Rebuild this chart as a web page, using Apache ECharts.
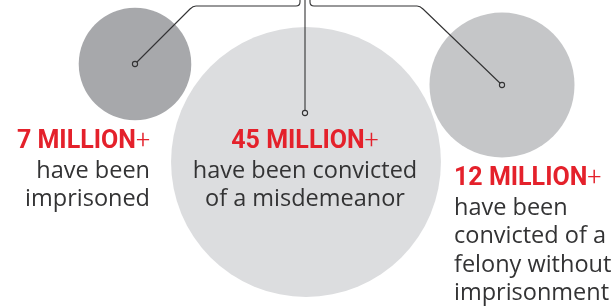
<!DOCTYPE html>
<html>
  <head>
    <meta charset="utf-8" />
    <title>Criminal records</title>
    <script src="https://cdn.jsdelivr.net/npm/echarts@6/dist/echarts.min.js"></script>
    <style>
      html, body { margin: 0; padding: 0; background: #fff; }
    </style>
  </head>
  <body>
    <div id="main" style="width: 612px; height: 308px"></div>
    <script type="text/javascript">
      // data
      const groups = ['imprisoned', 'misdemeanor', 'felony'];
      const millions = [7, 45, 12];
      const headlines = ['7 MILLION', '45 MILLION', '12 MILLION'];
      const descriptions = [
        ['have been', 'imprisoned'],
        ['have been convicted', 'of a misdemeanor'],
        ['have been', 'convicted of a', 'felony without', 'imprisonment']
      ];

      // layout in chart coords (axes span the whole canvas 1:1)
      const layout = [
        {
          center: [135, 64], fill: '#a7a8ab',
          text: [150, 149], align: 'right',
          leader: [['M', 135, 64], ['L', 190, 9], ['Q', 193, 6, 196, 6], ['L', 296, 6], ['Q', 300, 6, 300, 2], ['L', 300, -6]]
        },
        {
          center: [306, 162], fill: '#dcdddf',
          text: [305, 149], align: 'center',
          leader: [['M', 305, 113], ['L', 305, -6]],
          dot: [305, 113]
        },
        {
          center: [502, 85], fill: '#c5c6c8',
          text: [454, 186], align: 'left',
          leader: [['M', 310, -6], ['L', 310, 2], ['Q', 310, 6, 314, 6], ['L', 417, 6], ['Q', 420, 6, 423, 9], ['L', 502, 85]]
        }
      ];

      var chartDom = document.getElementById('main');
      var myChart = echarts.init(chartDom, null, { renderer: 'canvas' });

      function diameter(v) {
        return 45.1 * Math.pow(v, 0.47);
      }

      function pathFrom(api, cmds) {
        return cmds.map(function (c) {
          var pts = [];
          for (var i = 1; i < c.length; i += 2) {
            var p = api.coord([c[i], c[i + 1]]);
            pts.push(p[0].toFixed(1) + ' ' + p[1].toFixed(1));
          }
          return c[0] + pts.join(' ');
        }).join(' ');
      }

      const red = '#e4212b';
      const ink = '#333334';
      const headFont = 'Roboto, "Noto Sans", sans-serif';
      const bodyFont = '"Open Sans", "Noto Sans", sans-serif';

      function renderCircle(params, api) {
        var i = params.dataIndex;
        var L = layout[i];
        var c = api.coord(L.center);
        var r = diameter(api.value(1)) / 2;
        return {
          type: 'circle',
          shape: { cx: c[0], cy: c[1], r: r },
          style: { fill: L.fill }
        };
      }

      function renderLabels(params, api) {
        var i = params.dataIndex;
        var L = layout[i];
        var children = [];
        children.push({
          type: 'path',
          shape: { pathData: pathFrom(api, L.leader) },
          style: { fill: null, stroke: ink, lineWidth: 1.1 }
        });
        var d = api.coord(L.dot || L.center);
        children.push({
          type: 'circle',
          shape: { cx: d[0], cy: d[1], r: 2.6 },
          style: { fill: L.fill, stroke: ink, lineWidth: 1.1 }
        });
        var t = api.coord(L.text);
        children.push({
          type: 'text',
          x: t[0],
          y: t[1] - 7,
          style: {
            text: '{b|' + headlines[i] + '}{p|+}',
            align: L.align,
            verticalAlign: 'middle',
            rich: {
              b: { fontFamily: headFont, fontWeight: 'bold', fontSize: 25, fill: red },
              p: { fontFamily: headFont, fontWeight: 300, fontSize: 25, fill: red }
            }
          }
        });
        descriptions[i].forEach(function (line, k) {
          var p = api.coord([L.text[0], L.text[1] + 29.5 + k * 28.5]);
          children.push({
            type: 'text',
            x: p[0],
            y: p[1] - 7.5,
            style: {
              text: line,
              align: L.align,
              verticalAlign: 'middle',
              fontFamily: bodyFont,
              fontWeight: 'normal',
              fontSize: 23.5,
              fill: ink
            }
          });
        });
        return { type: 'group', children: children };
      }

      var option = {
        animation: false,
        backgroundColor: '#fff',
        grid: { left: 0, right: 0, top: 0, bottom: 0 },
        xAxis: { type: 'value', min: 0, max: 612, show: false },
        yAxis: { type: 'value', min: 0, max: 308, inverse: true, show: false },
        series: [
          {
            type: 'custom',
            name: 'circles',
            clip: false,
            renderItem: renderCircle,
            encode: { x: -1, y: -1 },
            data: groups.map(function (g, i) { return [i, millions[i]]; })
          },
          {
            type: 'custom',
            name: 'labels',
            clip: false,
            renderItem: renderLabels,
            encode: { x: -1, y: -1 },
            data: groups.map(function (g, i) { return [i, millions[i]]; })
          }
        ]
      };

      option && myChart.setOption(option);
    </script>
  </body>
</html>
